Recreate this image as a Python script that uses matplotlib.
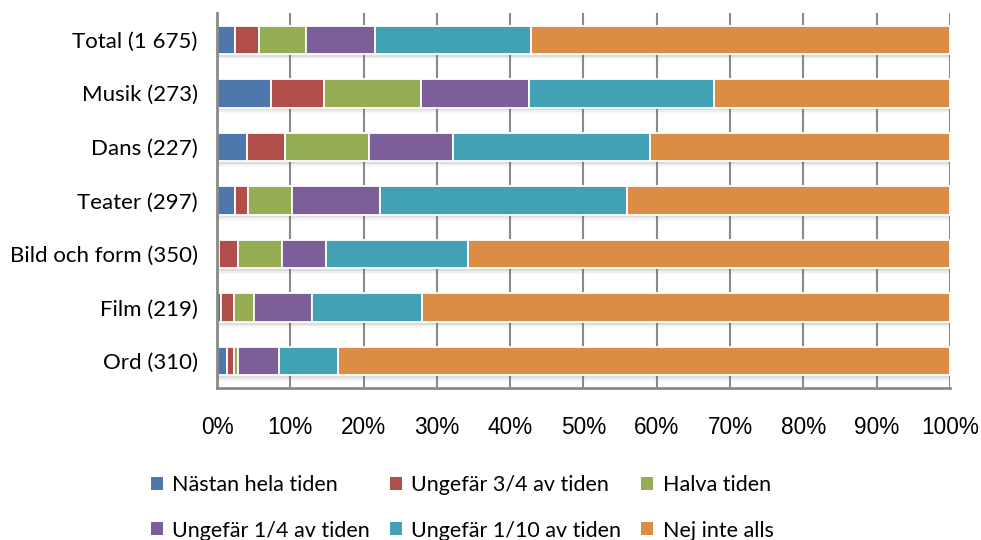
import matplotlib
matplotlib.use("Agg")
import matplotlib.pyplot as plt
import numpy as np

plt.rcParams['font.family'] = ['Liberation Sans', 'DejaVu Sans']
label_font = ['Lato', 'DejaVu Sans']

categories = ["Total (1 675)", "Musik (273)", "Dans (227)", "Teater (297)",
              "Bild och form (350)", "Film (219)", "Ord (310)"]

series_names = ["Nästan hela tiden", "Ungefär 3/4 av tiden", "Halva tiden",
                "Ungefär 1/4 av tiden", "Ungefär 1/10 av tiden", "Nej inte alls"]

nastan_hela = [2.5, 7.4, 4.1, 2.4, 0.3, 0.5, 1.3]
ungefar_3_4 = [3.2, 7.2, 5.2, 1.8, 2.6, 1.8, 1.0]
halva = [6.5, 13.2, 11.4, 6.0, 6.0, 2.8, 0.6]
ungefar_1_4 = [9.4, 14.8, 11.5, 12.1, 6.0, 7.8, 5.5]
ungefar_1_10 = [21.2, 25.2, 26.9, 33.6, 19.4, 15.0, 8.1]
nej = [57.2, 32.2, 40.9, 44.1, 65.7, 72.1, 83.5]

series_values = [nastan_hela, ungefar_3_4, halva, ungefar_1_4, ungefar_1_10, nej]
colors = ["#4E78AD", "#B04E4A", "#97AD54", "#7C5E98", "#42A1B5", "#DB8C45"]

xticks = [0, 10, 20, 30, 40, 50, 60, 70, 80, 90, 100]
xticklabels = [f"{t}%" for t in xticks]

fig = plt.figure(figsize=(9.81, 5.40), dpi=100)
ax = fig.add_axes([0.2212, 0.2815, 0.7472, 0.6945])

y = np.arange(len(categories))
bar_h = 0.53

# soft drop shadow under every segment
left = np.zeros(len(categories))
for vals in series_values:
    v = np.array(vals)
    for dy, a in [(0.05, 0.10), (0.08, 0.07), (0.11, 0.04)]:
        ax.barh(y + dy, v, left=left, height=bar_h, color="#606060",
                alpha=a, linewidth=0, zorder=1.5)
    left += v

left = np.zeros(len(categories))
handles = []
for name, vals, col in zip(series_names, series_values, colors):
    v = np.array(vals)
    b = ax.barh(y, v, left=left, height=bar_h, color=col, edgecolor="white",
                linewidth=1.3, label=name, zorder=3)
    handles.append(b)
    left += v

ax.set_xlim(0, 100)
ax.set_ylim(len(categories) - 0.5, -0.5)
ax.set_yticks(y)
ax.set_yticklabels(categories, fontsize=16, family=label_font)
ax.set_xticks(xticks)
ax.set_xticklabels(xticklabels, fontsize=16.3)
ax.tick_params(axis="x", length=0, pad=20)
ax.tick_params(axis="y", length=0, pad=14)

ax.grid(axis="x", color="#8a8a8a", linewidth=1.5, zorder=0)
ax.set_axisbelow(True)
for s in ["top", "right"]:
    ax.spines[s].set_visible(False)
for s in ["left", "bottom"]:
    ax.spines[s].set_color("#8a8a8a")
    ax.spines[s].set_linewidth(2)
    ax.spines[s].set_zorder(4)

# legend filled row by row (three per row)
order = [0, 3, 1, 4, 2, 5]
leg = fig.legend(handles=[handles[i] for i in order],
                 labels=[series_names[i] for i in order], ncol=3,
                 loc="upper left", bbox_to_anchor=(0.1427, 0.140),
                 frameon=False, prop={'family': label_font, 'size': 15.5},
                 handlelength=0.55, handleheight=0.55, handletextpad=0.45,
                 columnspacing=0.92, labelspacing=1.18, borderpad=0)
for h in leg.legend_handles:
    h.set_edgecolor("none")

fig.savefig("out.png", dpi=100)
